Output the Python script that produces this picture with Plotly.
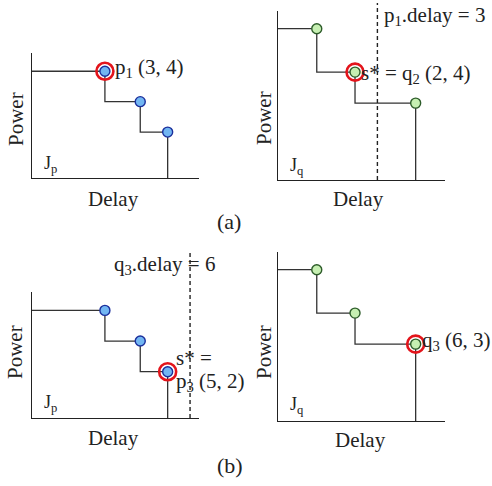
import plotly.graph_objects as go

# Pareto points (delay, power) of the two jobs
p_delay = [3, 4, 5]
p_power = [4, 3, 2]
q_delay = [1, 2, 6]
q_power = [5.4, 4, 3]

# delay thresholds marked with dashed lines
p1_delay = 3   # (a): threshold applied to J_q
q3_delay = 6   # (b): threshold applied to J_p

W, H = 492, 486
SERIF = "Liberation Serif"
INK = "#222222"

# panel boxes in pixels: left, top, right, bottom
boxes = {
    1: (32, 53, 199, 178),
    2: (278, 11, 445, 180),
    3: (32, 292, 199, 418),
    4: (278, 252, 445, 421),
}
# delay axes are compressed (log) so the schematic stays readable
xr_p = [0.2193, 0.8098]
xr_q = [-0.305, 1.009]
yr_p = [0.49, 4.6]
yr_q = [0.52, 5.97]

BLUE_FILL, BLUE_LINE = "#72b6f2", "#1b2f9c"
GREEN_FILL, GREEN_LINE = "#c6efb2", "#2d5c2a"
RED = "#e3141b"


def staircase(xs, ys, x_lo, y_lo):
    px, py = [x_lo], [ys[0]]
    for i in range(len(xs)):
        px.append(xs[i]); py.append(ys[i])
        nxt = ys[i + 1] if i + 1 < len(xs) else y_lo
        px.append(xs[i]); py.append(nxt)
    return px, py


fig = go.Figure()

# panel id, points, ranges, colours, index of the ringed point
panels = [
    (1, p_delay, p_power, xr_p, yr_p, BLUE_FILL, BLUE_LINE, 0),
    (2, q_delay, q_power, xr_q, yr_q, GREEN_FILL, GREEN_LINE, 1),
    (3, p_delay, p_power, xr_p, yr_p, BLUE_FILL, BLUE_LINE, 2),
    (4, q_delay, q_power, xr_q, yr_q, GREEN_FILL, GREEN_LINE, 2),
]

layout_axes = {}
for k, xs, ys, xr, yr, fill, edge, ring_idx in panels:
    xa = "x" if k == 1 else f"x{k}"
    ya = "y" if k == 1 else f"y{k}"
    sx, sy = staircase(xs, ys, 10 ** xr[0], yr[0])
    fig.add_trace(go.Scatter(x=sx, y=sy, xaxis=xa, yaxis=ya, mode="lines",
                             line=dict(color="#333333", width=1.3),
                             hoverinfo="skip", showlegend=False))
    fig.add_trace(go.Scatter(x=[xs[ring_idx]], y=[ys[ring_idx]], xaxis=xa, yaxis=ya,
                             mode="markers", showlegend=False,
                             marker=dict(symbol="circle-open", size=17, color=RED,
                                         line=dict(width=2.6))))
    fig.add_trace(go.Scatter(x=xs, y=ys, xaxis=xa, yaxis=ya, mode="markers",
                             showlegend=False,
                             marker=dict(size=10, color=fill,
                                         line=dict(color=edge, width=1.4))))
    l, t, r, b = boxes[k]
    common = dict(showgrid=False, zeroline=False, showticklabels=False, ticks="",
                  showline=True, linecolor=INK, linewidth=1.4, fixedrange=True)
    layout_axes["xaxis" if k == 1 else f"xaxis{k}"] = dict(
        common, type="log", range=xr, domain=[l / W, r / W], anchor=ya)
    layout_axes["yaxis" if k == 1 else f"yaxis{k}"] = dict(
        common, range=yr, domain=[1 - b / H, 1 - t / H], anchor=xa)

fig.update_layout(**layout_axes)

# dashed delay thresholds
fig.add_shape(type="line", xref="x2", yref="y2 domain",
              x0=p1_delay, x1=p1_delay, y0=0, y1=1.047,
              line=dict(color=INK, width=1.4, dash="4px,3px"))
fig.add_shape(type="line", xref="x3", yref="y3 domain",
              x0=q3_delay, x1=q3_delay, y0=0, y1=1.317,
              line=dict(color=INK, width=1.4, dash="4px,3px"))


def note(text, px, py, size=21, xanchor="left", angle=0):
    fig.add_annotation(text=text, x=px / W, y=1 - py / H, xref="paper", yref="paper",
                       xanchor=xanchor, yanchor="middle", showarrow=False,
                       textangle=angle, font=dict(family=SERIF, size=size, color=INK))


# axis titles
for px, py in [(113, 199), (358, 199), (113, 438), (360, 440)]:
    note("Delay", px, py, xanchor="center")
for px, py in [(16, 119), (264, 118), (15, 352), (264, 352)]:
    note("Power", px, py, xanchor="center", angle=-90)

# job names
note("J<sub>p</sub>", 42, 164, size=18)
note("J<sub>q</sub>", 288, 166, size=18)
note("J<sub>p</sub>", 42, 403, size=18)
note("J<sub>q</sub>", 288, 405, size=18)

# point labels
note("p<sub>1</sub> (3, 4)", 113, 68)
note("s* = q<sub>2</sub> (2, 4)", 359, 74)
note("p<sub>1</sub>.delay = 3", 382, 16)
note("q<sub>3</sub>.delay = 6", 112, 265)
note("s* =", 174, 358)
note("p<sub>3</sub> (5, 2)", 174, 382)
note("q<sub>3</sub> (6, 3)", 420, 341)

# sub-figure captions
note("(a)", 229, 221, size=22, xanchor="center")
note("(b)", 230, 465, size=22, xanchor="center")

fig.update_layout(width=W, height=H, margin=dict(l=0, r=0, t=0, b=0),
                  paper_bgcolor="white", plot_bgcolor="white")

fig.write_html("out.html")
